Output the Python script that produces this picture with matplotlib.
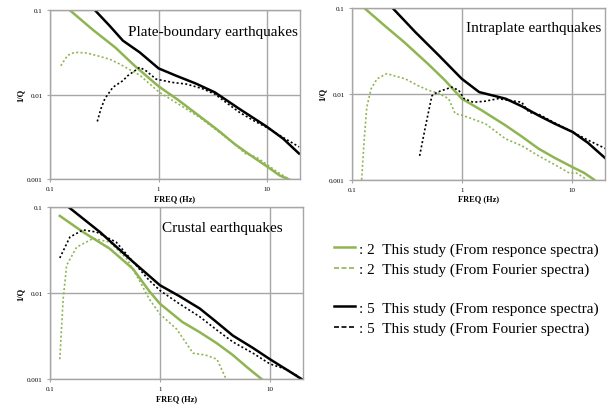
import matplotlib.pyplot as plt
from matplotlib.lines import Line2D

plt.rcParams['font.family'] = ['Liberation Serif', 'DejaVu Serif']

GREEN = '#8fb552'
GRID = '#a6a6a6'

# ---- Plate-boundary earthquakes
pb_resp2_f = [0.152, 0.25, 0.4, 0.6, 1.0, 1.5, 2.4, 3.5, 5.0, 6.3, 8.0, 10.0, 13.0, 17.0]
pb_resp2_q = [0.1, 0.058, 0.036, 0.022, 0.0125, 0.0087, 0.0055, 0.0038, 0.0026, 0.0021, 0.0017, 0.0014, 0.0011, 0.00095]
pb_four2_f = [0.126, 0.145, 0.169, 0.22, 0.287, 0.36, 0.438, 0.55, 0.67, 0.82, 1.0, 1.5, 2.37, 3.5, 4.8, 6.3, 8.0, 9.8, 12.5, 15.8]
pb_four2_q = [0.0219, 0.029, 0.0316, 0.031, 0.0283, 0.026, 0.023, 0.0195, 0.017, 0.0135, 0.0108, 0.0078, 0.0054, 0.0037, 0.0027, 0.002, 0.0018, 0.0015, 0.0012, 0.001]
pb_resp5_f = [0.259, 0.355, 0.47, 0.67, 1.0, 1.45, 2.2, 3.3, 5.5, 9.8, 14.0, 19.6]
pb_resp5_q = [0.1, 0.065, 0.0434, 0.0316, 0.0204, 0.0167, 0.0135, 0.0106, 0.0068, 0.0042, 0.003, 0.002]
pb_four5_f = [0.273, 0.295, 0.32, 0.38, 0.47, 0.52, 0.6, 0.67, 0.77, 0.95, 1.35, 1.8, 2.5, 3.3, 4.5, 5.5, 7.5, 9.8, 14.0, 19.6]
pb_four5_q = [0.0048, 0.0068, 0.0089, 0.0122, 0.0146, 0.0167, 0.019, 0.021, 0.019, 0.0152, 0.0139, 0.0133, 0.0118, 0.0101, 0.0075, 0.0062, 0.0049, 0.0041, 0.0031, 0.0024]

# ---- Intraplate earthquakes
ip_resp2_f = [0.13, 0.2, 0.3, 0.5, 0.7, 1.0, 1.5, 2.5, 3.5, 5.0, 7.0, 10.2, 13.0, 16.0]
ip_resp2_q = [0.1, 0.062, 0.04, 0.022, 0.0145, 0.0088, 0.0065, 0.0043, 0.0032, 0.0023, 0.0018, 0.0014, 0.0012, 0.001]
ip_four2_f = [0.123, 0.13, 0.137, 0.15, 0.17, 0.208, 0.306, 0.4, 0.5, 0.6, 0.76, 0.87, 1.03, 1.64, 2.5, 3.5, 5.0, 7.0, 9.5, 11.0, 13.3]
ip_four2_q = [0.001, 0.003, 0.007, 0.0115, 0.015, 0.0172, 0.015, 0.0125, 0.011, 0.0103, 0.0088, 0.0059, 0.0056, 0.0045, 0.003, 0.0025, 0.0019, 0.0015, 0.0012, 0.0012, 0.00103]
ip_resp5_f = [0.235, 0.378, 0.62, 1.0, 1.44, 2.5, 3.5, 5.0, 7.0, 10.2, 14.0, 20.4]
ip_resp5_q = [0.1, 0.0525, 0.028, 0.015, 0.0105, 0.0088, 0.0072, 0.0056, 0.0045, 0.0036, 0.0027, 0.00176]
ip_four5_f = [0.414, 0.47, 0.535, 0.6, 0.71, 0.81, 0.94, 1.05, 1.27, 1.6, 2.14, 3.5, 4.1, 5.0, 7.0, 10.2, 14.0, 20.4]
ip_four5_q = [0.0019, 0.0043, 0.0095, 0.0105, 0.0113, 0.012, 0.011, 0.0088, 0.008, 0.0082, 0.0088, 0.008, 0.0061, 0.0058, 0.0046, 0.0036, 0.0029, 0.0023]

# ---- Crustal earthquakes
cr_resp2_f = [0.123, 0.2, 0.35, 0.57, 0.8, 1.0, 1.6, 2.3, 3.3, 4.6, 6.2, 8.4]
cr_resp2_q = [0.0786, 0.051, 0.0327, 0.019, 0.0105, 0.0075, 0.0046, 0.0035, 0.0026, 0.0019, 0.00137, 0.001]
cr_four2_f = [0.123, 0.132, 0.142, 0.175, 0.247, 0.35, 0.5, 0.66, 0.8, 1.0, 1.42, 2.0, 2.6, 3.3, 4.0]
cr_four2_q = [0.0017, 0.0085, 0.021, 0.034, 0.043, 0.039, 0.025, 0.0135, 0.0085, 0.0057, 0.0038, 0.002, 0.0019, 0.0017, 0.001]
cr_resp5_f = [0.147, 0.285, 0.57, 1.0, 1.5, 2.3, 3.2, 4.6, 7.0, 10.0, 14.0, 19.4]
cr_resp5_q = [0.1, 0.051, 0.023, 0.0123, 0.0092, 0.0066, 0.0047, 0.0032, 0.0023, 0.0017, 0.0013, 0.001]
cr_four5_f = [0.123, 0.152, 0.2, 0.265, 0.4, 0.57, 0.8, 1.0, 1.5, 2.3, 3.3, 4.6, 7.0, 10.0, 14.0, 17.6]
cr_four5_q = [0.0255, 0.0446, 0.054, 0.051, 0.039, 0.023, 0.014, 0.0107, 0.0075, 0.0053, 0.0037, 0.0027, 0.002, 0.0015, 0.0013, 0.0011]

titles = ['Plate-boundary earthquakes', 'Intraplate earthquakes', 'Crustal earthquakes']
legend_labels = [': 2  This study (From responce spectra)',
                 ': 2  This study (From Fourier spectra)',
                 ': 5  This study (From responce spectra)',
                 ': 5  This study (From Fourier spectra)']

panels = [
    (pb_resp2_f, pb_resp2_q, pb_four2_f, pb_four2_q, pb_resp5_f, pb_resp5_q, pb_four5_f, pb_four5_q),
    (ip_resp2_f, ip_resp2_q, ip_four2_f, ip_four2_q, ip_resp5_f, ip_resp5_q, ip_four5_f, ip_four5_q),
    (cr_resp2_f, cr_resp2_q, cr_four2_f, cr_four2_q, cr_resp5_f, cr_resp5_q, cr_four5_f, cr_four5_q),
]
boxes = [[0.081, 0.561, 0.406, 0.412],
         [0.571, 0.559, 0.411, 0.419],
         [0.081, 0.073, 0.411, 0.420]]
title_pos = [(0.99, 0.876), (0.985, 0.884), (0.92, 0.878)]

DOT = (0, (1.2, 1.4))

fig = plt.figure(figsize=(6.16, 4.10), dpi=100)
for box, title, tp, d in zip(boxes, titles, title_pos, panels):
    ax = fig.add_axes(box)
    ax.plot(d[0], d[1], color=GREEN, lw=1.8)
    ax.plot(d[2], d[3], color=GREEN, lw=1.2, ls=DOT)
    ax.plot(d[4], d[5], color='black', lw=1.8)
    ax.plot(d[6], d[7], color='black', lw=1.2, ls=DOT)
    ax.set_xscale('log')
    ax.set_yscale('log')
    ax.set_xlim(0.1, 20)
    ax.set_ylim(0.001, 0.1)
    ax.set_xticks([0.1, 1, 10], ['0.1', '1', '10'])
    ax.set_yticks([0.001, 0.01, 0.1], ['0.001', '0.01', '0.1'])
    ax.minorticks_off()
    ax.tick_params(labelsize=5, length=2, color=GRID, pad=3)
    ax.grid(True, color=GRID, lw=1)
    for s in ax.spines.values():
        s.set_color(GRID)
        s.set_linewidth(1)
    ax.set_xlabel('FREQ (Hz)', fontsize=6, fontweight='bold', labelpad=2)
    ax.set_ylabel('1/Q', fontsize=6, fontweight='bold', labelpad=2)
    ax.text(tp[0], tp[1], title, transform=ax.transAxes, ha='right', va='center',
            fontsize=11)

h_green = [Line2D([], [], color=GREEN, lw=1.8), Line2D([], [], color=GREEN, lw=1.2, ls=(0, (3, 1.5)))]
h_black = [Line2D([], [], color='black', lw=1.8), Line2D([], [], color='black', lw=1.2, ls=(0, (3, 1.5)))]
for handles, labels, y in [(h_green, legend_labels[:2], 0.366), (h_black, legend_labels[2:], 0.222)]:
    fig.legend(handles, labels, loc='center left', bbox_to_anchor=(0.52, y), frameon=False,
               fontsize=11, handlelength=1.4, handletextpad=0.25, labelspacing=0.45)

plt.savefig('out.png', dpi=100)
